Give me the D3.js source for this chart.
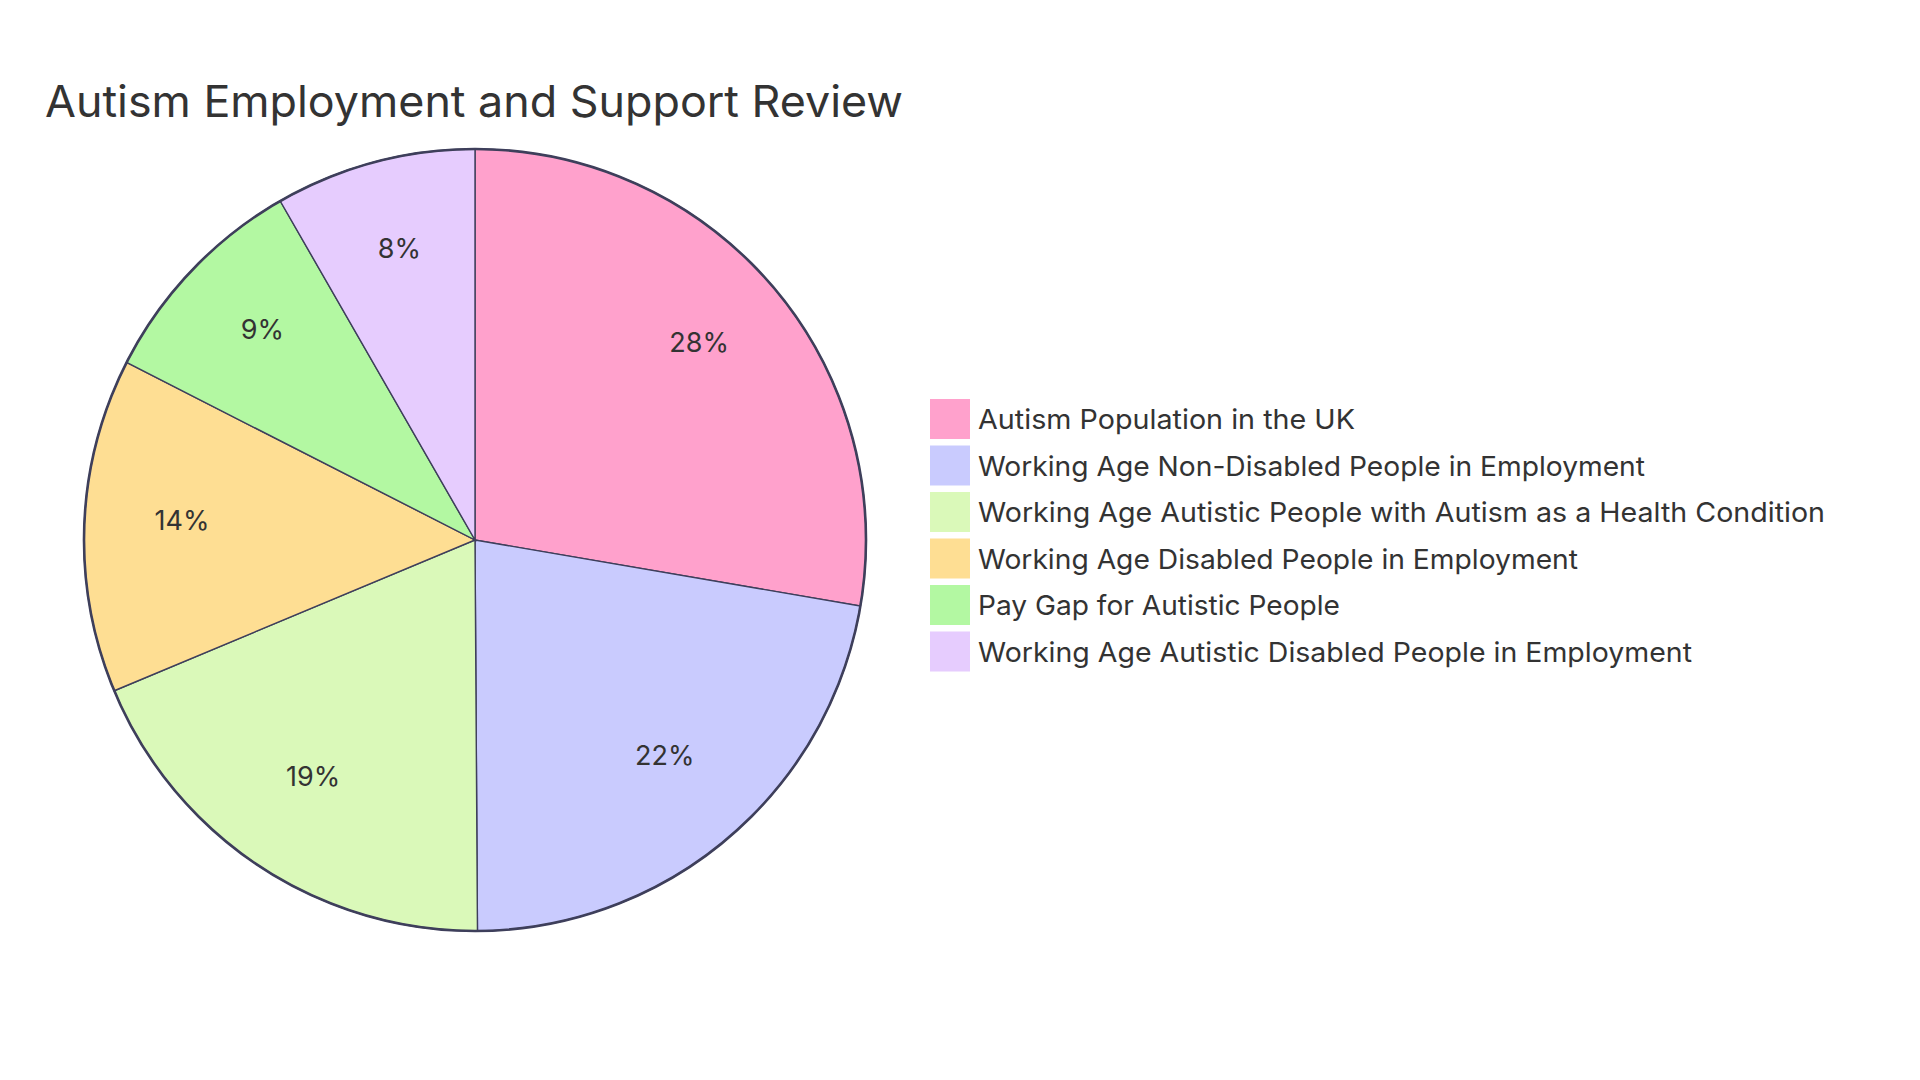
<!DOCTYPE html>
<html>
<head>
<meta charset="utf-8">
<script src="https://cdn.jsdelivr.net/npm/d3@7"></script>
<style>
  html, body { margin: 0; padding: 0; background: #ffffff; }
  svg { display: block; }
  text { font-family: Inter, "Open Sans", sans-serif; fill: #333333; }
</style>
</head>
<body>
<svg id="chart" width="1920" height="1080"></svg>
<script>
const title = "Autism Employment and Support Review";
const categories = [
  "Autism Population in the UK",
  "Working Age Non-Disabled People in Employment",
  "Working Age Autistic People with Autism as a Health Condition",
  "Working Age Disabled People in Employment",
  "Pay Gap for Autistic People",
  "Working Age Autistic Disabled People in Employment"
];
const values = [27.7, 22.2, 18.8, 13.8, 9.2, 8.3];
const colors = ["#FFA1CC", "#C9CBFE", "#DAF9B9", "#FEDE93", "#B3F8A2", "#E6CCFE"];
const legendWidths = [377, 667, 847, 600, 362, 714];

const svg = d3.select("#chart");
const cx = 475, cy = 540, r = 391;

svg.append("text")
  .attr("x", 45).attr("y", 117)
  .attr("font-size", 44)
  .attr("textLength", 858)
  .attr("lengthAdjust", "spacingAndGlyphs")
  .text(title);

const total = d3.sum(values);
const pie = d3.pie().sort(null).value(d => d.v);
const arcs = pie(values.map((v, i) => ({ v, i })));
const arc = d3.arc().innerRadius(0).outerRadius(r);
const labelArc = d3.arc().innerRadius(r * 0.75).outerRadius(r * 0.75);

const g = svg.append("g").attr("transform", `translate(${cx},${cy})`);

g.selectAll("path.slice").data(arcs).enter().append("path")
  .attr("class", "slice")
  .attr("d", arc)
  .attr("fill", d => colors[d.data.i])
  .attr("stroke", "#3E3F5B")
  .attr("stroke-width", 1.4);

g.append("circle")
  .attr("r", r)
  .attr("fill", "none")
  .attr("stroke", "#3E3F5B")
  .attr("stroke-width", 2.6);

g.selectAll("text.pct").data(arcs).enter().append("text")
  .attr("class", "pct")
  .attr("transform", d => `translate(${labelArc.centroid(d)})`)
  .attr("text-anchor", "middle")
  .attr("dy", "0.05em")
  .attr("font-size", 27)
  .text(d => (d.data.v / total * 100).toFixed(0) + "%");

const legendY = d3.scaleLinear().domain([0, categories.length - 1]).range([399, 631.5]);
const lg = svg.append("g");
const rows = lg.selectAll("g.row").data(categories).enter().append("g")
  .attr("class", "row")
  .attr("transform", (d, i) => `translate(930,${legendY(i)})`);
rows.append("rect")
  .attr("width", 40).attr("height", 40)
  .attr("fill", (d, i) => colors[i]);
rows.append("text")
  .attr("x", 48).attr("y", 30)
  .attr("font-size", 27.5)
  .attr("textLength", (d, i) => legendWidths[i])
  .attr("lengthAdjust", "spacingAndGlyphs")
  .text(d => d);
</script>
</body>
</html>
